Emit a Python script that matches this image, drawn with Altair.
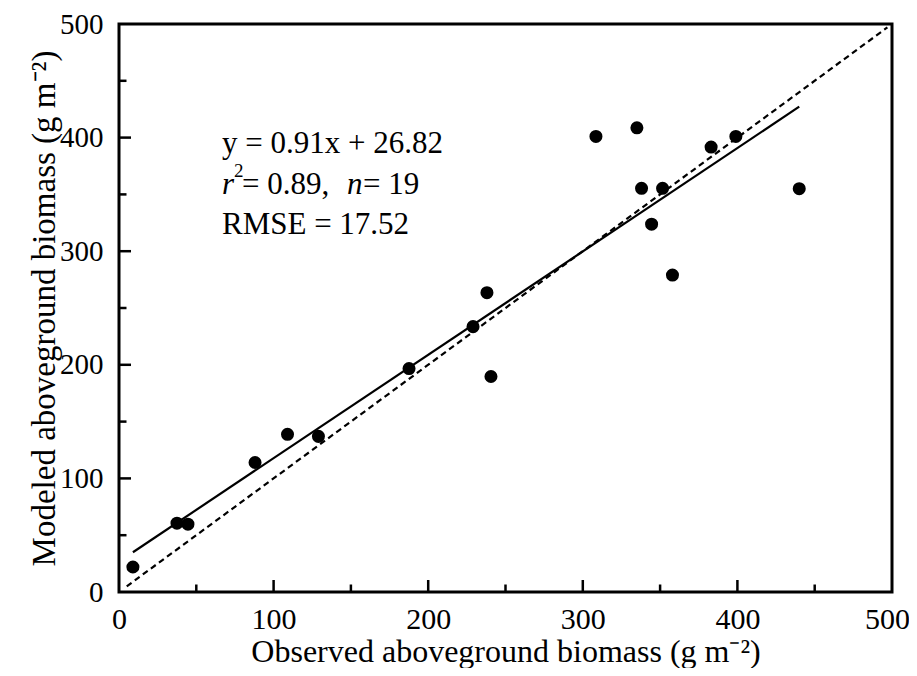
import altair as alt
import pandas as pd

# observed vs modeled aboveground biomass (g m-2)
observed = [9, 37.5, 44.6, 88, 109, 129, 187.6, 229, 238, 240.6,
            308.5, 335, 338, 351.6, 344.5, 358, 383, 399, 440]
modeled = [22, 60.6, 59.7, 114, 138.8, 137, 196.7, 233.6, 263.5, 189.7,
           401, 408.6, 355.4, 355.4, 323.8, 279, 391.7, 401, 355]

# fitted line end points (y = 0.91x + 26.82)
fit_x = [9, 440]
fit_y = [35.0, 427.2]

# 1:1 line end points
one_x = [5, 497]
one_y = [5, 497]

major_ticks = [0, 100, 200, 300, 400, 500]
minor_ticks = [50, 150, 250, 350, 450]

FONT = "Liberation Serif"
SC_X = alt.Scale(domain=[0, 500], nice=False, zero=False)
SC_Y = alt.Scale(domain=[0, 500], nice=False, zero=False)

pts_df = pd.DataFrame({"x": observed, "y": modeled})
fit_df = pd.DataFrame({"x": fit_x, "y": fit_y})
one_df = pd.DataFrame({"x": one_x, "y": one_y})

base = alt.Chart(pts_df)

x_axis = alt.Axis(values=major_ticks, format="d", title="Observed aboveground biomass (g m\u207b\u00b2)",
                  titleY=69, titleBaseline="alphabetic",
                  labelFont=FONT, labelFontSize=30, labelPadding=12,
                  labelOffset={"condition": {"test": "datum.value == 500", "value": -5}, "value": 0},
                  titleFont=FONT, titleFontSize=32)
y_axis = alt.Axis(values=major_ticks, format="d", title="Modeled aboveground biomass (g m\u207b\u00b2)",
                  titleX=-65, titleBaseline="alphabetic", titleAngle=270,
                  labelFont=FONT, labelFontSize=29, labelPadding=16,
                  titleFont=FONT, titleFontSize=33)

points = base.mark_circle(size=170, color="black", opacity=1).encode(
    x=alt.X("x:Q", scale=SC_X, axis=x_axis),
    y=alt.Y("y:Q", scale=SC_Y, axis=y_axis),
)

fit = alt.Chart(fit_df).mark_line(color="black", strokeWidth=2.2).encode(
    x=alt.X("x:Q", scale=SC_X), y=alt.Y("y:Q", scale=SC_Y))

one = alt.Chart(one_df).mark_line(color="black", strokeWidth=2.2, strokeDash=[6, 4]).encode(
    x=alt.X("x:Q", scale=SC_X), y=alt.Y("y:Q", scale=SC_Y))


def xticks(vals, length):
    df = pd.DataFrame({"x": vals})
    return alt.Chart(df).mark_rule(color="black", strokeWidth=2.5, y2Offset=-length).encode(
        x=alt.X("x:Q", scale=SC_X), y=alt.datum(0), y2=alt.datum(0))


def yticks(vals, length):
    df = pd.DataFrame({"y": vals})
    return alt.Chart(df).mark_rule(color="black", strokeWidth=2.5, x2Offset=length).encode(
        y=alt.Y("y:Q", scale=SC_Y), x=alt.datum(0), x2=alt.datum(0))


ticks = [xticks(major_ticks[1:-1], 12), xticks(minor_ticks, 7.5),
         yticks(major_ticks[1:-1], 12), yticks(minor_ticks, 7.5)]

# annotation pieces: text, data x, data y, dx, dy, size, style
ann_text = ["y = 0.91x + 26.82", "r", "2", "= 0.89,", "n", "= 19", "RMSE = 17.52"]
ann_x = [66.6, 66.6, 66.6, 66.6, 66.6, 66.6, 66.6]
ann_y = [386.4, 350.4, 350.4, 350.4, 350.4, 350.4, 315.3]
ann_dx = [0, 0, 12, 20, 125, 141, 0]
ann_dy = [0, 0, -17, 0, 0, 0, 0]
ann_size = [31, 31, 19, 31, 31, 31, 31]
ann_style = ["normal", "italic", "normal", "normal", "italic", "normal", "normal"]

texts = []
for t, xx, yy, dx, dy, s, st in zip(ann_text, ann_x, ann_y, ann_dx, ann_dy, ann_size, ann_style):
    df = pd.DataFrame({"x": [xx], "y": [yy], "t": [t]})
    texts.append(alt.Chart(df).mark_text(
        align="left", baseline="alphabetic", font=FONT, fontSize=s, fontStyle=st,
        color="black", dx=dx, dy=dy).encode(
        x=alt.X("x:Q", scale=SC_X), y=alt.Y("y:Q", scale=SC_Y), text="t:N"))

chart = alt.layer(one, fit, *ticks, *texts, points).properties(
    width=773, height=568,
    autosize=alt.AutoSizeParams(type="none"),
    padding={"left": 111, "top": 16, "right": 17, "bottom": 76},
).configure_view(
    stroke="black", strokeWidth=3
).configure_axis(
    domain=False, ticks=False, tickSize=0, grid=False,
    labelFont=FONT, labelFontSize=30, labelColor="black",
    labelFlush=False, labelOverlap=False,
    titleFont=FONT, titleFontSize=31, titleColor="black", titleFontWeight="normal",
)

chart.save("out.html", embed_options={"renderer": "svg", "actions": False})
